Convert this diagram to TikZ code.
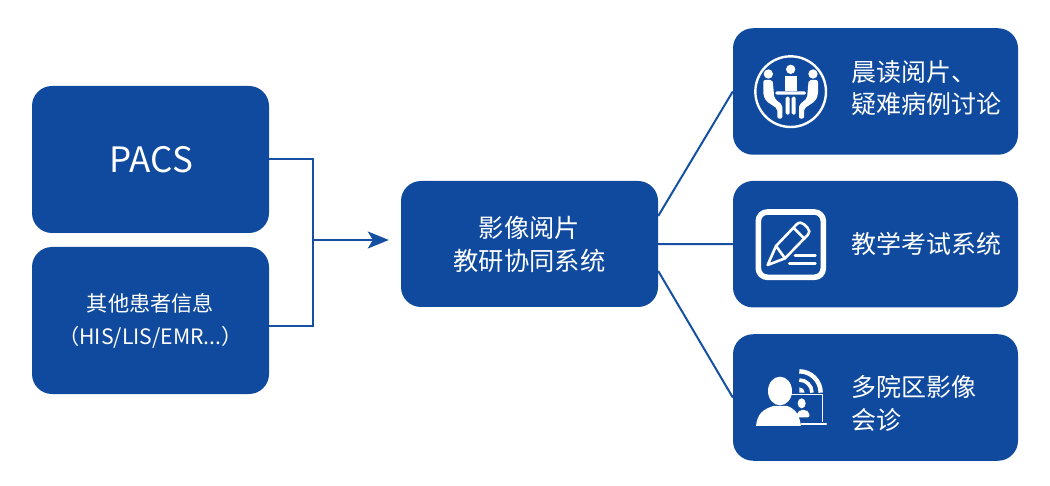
\documentclass[tikz,border=0pt]{standalone}
\usepackage{fontspec}
\setmainfont{Noto Sans CJK SC}
\usetikzlibrary{arrows.meta, calc}
\definecolor{boxblue}{HTML}{0F4A9E}
\definecolor{linkblue}{HTML}{1550A3}

\begin{document}
\begin{tikzpicture}[
  x=1pt, y=-1pt,
  box/.style={draw=none, fill=boxblue, rounded corners=20pt, align=center, inner sep=0pt,
              text=white, font=\fontsize{25.3}{33}\selectfont},
  srcbox/.style={box, minimum width=237pt, minimum height=147pt},
  outbox/.style={box, minimum width=285pt, minimum height=126.5pt},
  boxtext/.style={align=left, anchor=west, inner sep=0pt, text=white,
                  font=\fontsize{25}{32.5}\selectfont},
  link/.style={draw=linkblue, line width=2pt},
  icon/.style={fill=white, draw=none},
  iconline/.style={draw=white, fill=none, line join=round, line cap=round},
  zoomed/.style={x=0.3333pt, y=-0.3333pt},
]
\useasboundingbox (0,0) rectangle (1050,486);

% sources
\node[srcbox, font=\fontsize{35}{40}\selectfont] (pacs) at (150.5,159.5) {\hspace{1.5pt}\raisebox{-2.5pt}{PACS}};
\node[srcbox, font=\fontsize{21.2}{33}\selectfont] (info) at (150.5,320.5) {\raisebox{-1pt}{其他患者信息}\\\raisebox{-1pt}{（HIS/LIS/EMR...）}};

% centre
\node[box, minimum width=257pt, minimum height=126pt] (hub) at (529.5,244) {\raisebox{-1pt}{影像阅片}\\\raisebox{-1pt}{教研协同系统}};

% outputs
\node[outbox] (meet)  at (875.5,91.5) {};
\node[outbox] (exam)  at (875.5,244.2) {};
\node[outbox] (remote) at (875.5,397.5) {};
\node[boxtext] (meettext) at (851,88) {晨读阅片、\\疑难病例讨论};
\node[boxtext] (examtext) at (851,244) {教学考试系统};
\node[boxtext] (remotetext) at (851,403.5) {多院区影像\\会诊};

% connectors
\coordinate (join) at (313,240);
\draw[link] (pacs.east) -| (join) |- ([yshift=-5.5pt]info.east);
\draw[link, -{Stealth[length=21pt, width=17pt, inset=5pt]}, shorten >=12pt] (join) -- (join -| hub.west);
\draw[link] ([yshift=28pt]hub.east) -- (meet.west);
\draw[link] (hub.east) -- (exam.west);
\draw[link] ([yshift=-27pt]hub.east) -- (remote.west);

% meeting icon
\begin{scope}[shift={(740,30)}, zoomed]
  \draw[iconline, line width=2.4pt] (152,185) circle (106);
  \fill[icon] (85,132) circle (14) (152,118) circle (14) (219,132) circle (14);
  \fill[icon] (135,137) rectangle (170,183);
  \fill[icon, rounded corners=1.5pt] (106,184) rectangle (198,194);
  \fill[icon, rounded corners=1.5pt] (137,200) rectangle (149,254) (155,200) rectangle (167,254);
  \fill[icon, rounded corners=2pt] (70,150) -- (98,150) -- (103,205) -- (127,225) -- (127,266) -- (112,266) -- (112,236) -- (78,213) -- (70,195) -- cycle;
  \fill[icon, rounded corners=2pt] (234,150) -- (206,150) -- (201,205) -- (177,225) -- (177,266) -- (192,266) -- (192,236) -- (226,213) -- (234,195) -- cycle;
\end{scope}

% exam icon
\begin{scope}[shift={(740,190)}, zoomed]
  \draw[iconline, line width=5.6pt, rounded corners=9pt] (55,66) rectangle (250,262);
  \draw[iconline, line width=2.6pt] (83,225) -- (108,168) -- (170,103) .. controls (178,95) and (186,98) .. (192,103) -- (203,114) .. controls (209,120) and (210,128) .. (204,134) -- (135,205) -- cycle;
  \draw[iconline, line width=2.6pt] (108,168) -- (135,205) (162,115) -- (193,146);
  \draw[iconline, line width=2.8pt] (165,197) -- (226,197) (148,221) -- (226,221);
\end{scope}

% remote icon
\begin{scope}[shift={(740,350)}, zoomed]
  % wifi
  \fill[icon] (178,128) -- (178,112) arc[start angle=-90, end angle=0, radius=16] -- cycle;
  \draw[iconline, line cap=butt, line width=3.6pt] (178,90) arc[start angle=-90, end angle=0, radius=38];
  \draw[iconline, line cap=butt, line width=4.4pt] (178,64) arc[start angle=-90, end angle=0, radius=64];
  % laptop
  \draw[iconline, line cap=butt, line width=1.4pt] (150,134) -- (248,134) -- (248,216);
  \draw[iconline, line width=2.6pt] (185,222) -- (258,222);
  \fill[icon] (185,160) ellipse (12 and 15);
  \fill[icon, rounded corners=2pt] (170,202) -- (172,186) -- (182,180) -- (198,180) -- (207,186) -- (209,202) -- cycle;
  % person
  \fill[icon] (120,123) ellipse (36 and 43);
  \fill[icon] (48,228) .. controls (52,190) and (70,178) .. (100,168) -- (142,168) .. controls (168,178) and (178,195) .. (183,228) -- cycle;
\end{scope}
\end{tikzpicture}
\end{document}
